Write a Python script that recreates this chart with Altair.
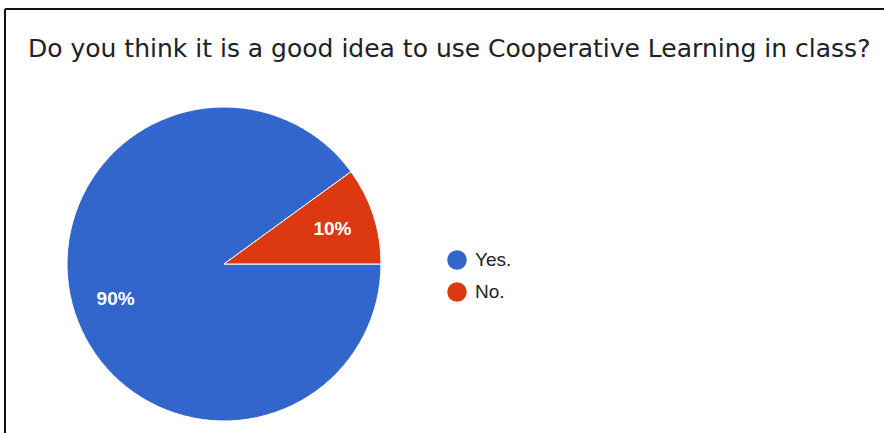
import altair as alt
import pandas as pd

categories = ["Yes.", "No."]
values = [90, 10]
labels = ["90%", "10%"]
colors = ["#3366CC", "#DC3912"]
title_text = "Do you think it is a good idea to use Cooperative Learning in class?"

df = pd.DataFrame({"answer": categories, "value": values, "label": labels,
                   "order": [0, 1]})

W, H = 884, 433
CX, CY, R = 224, 264, 157

theta = alt.Theta("value:Q", stack=True,
                  scale=alt.Scale(range=[1.5707963, 7.8539816]))

base = alt.Chart(df)

pie = base.mark_arc(stroke="white", strokeWidth=1, radius=R).encode(
    theta=theta,
    order=alt.Order("order:Q"),
    x=alt.value(CX),
    y=alt.value(CY),
    color=alt.Color(
        "answer:N",
        sort=categories,
        scale=alt.Scale(domain=categories, range=colors),
        legend=alt.Legend(
            title=None,
            orient="none",
            legendX=447,
            legendY=250,
            symbolType="circle",
            symbolSize=380,
            symbolStrokeWidth=0,
            labelFont="Liberation Sans",
            labelFontSize=19,
            labelColor="#222222",
            labelOffset=8,
            rowPadding=12,
        ),
    ),
)

text = base.mark_text(radius=114, font="Liberation Sans", fontSize=19,
                      fontWeight="bold", color="white").encode(
    theta=theta,
    order=alt.Order("order:Q"),
    x=alt.value(CX),
    y=alt.value(CY),
    text="label:N",
)

border = pd.DataFrame({"k": [0]})
left_line = alt.Chart(border).mark_rule(color="#111111", strokeWidth=2).encode(
    x=alt.value(5), y=alt.value(9), y2=alt.value(H + 5))
top_line = alt.Chart(border).mark_rule(color="#111111", strokeWidth=2).encode(
    x=alt.value(5), x2=alt.value(W + 5), y=alt.value(9))

chart = alt.layer(pie, text, left_line, top_line).properties(
    width=W,
    height=H,
    padding=0,
    autosize=alt.AutoSizeParams(type="none"),
    title=alt.TitleParams(
        text=title_text,
        anchor="start",
        frame="group",
        font="DejaVu Sans",
        fontSize=25,
        fontWeight="normal",
        color="#202124",
        baseline="alphabetic",
        offset=0,
        dy=82,
        dx=28,
    ),
).configure_view(stroke=None)

chart.save("out.html", embed_options={"renderer": "svg", "actions": False})
